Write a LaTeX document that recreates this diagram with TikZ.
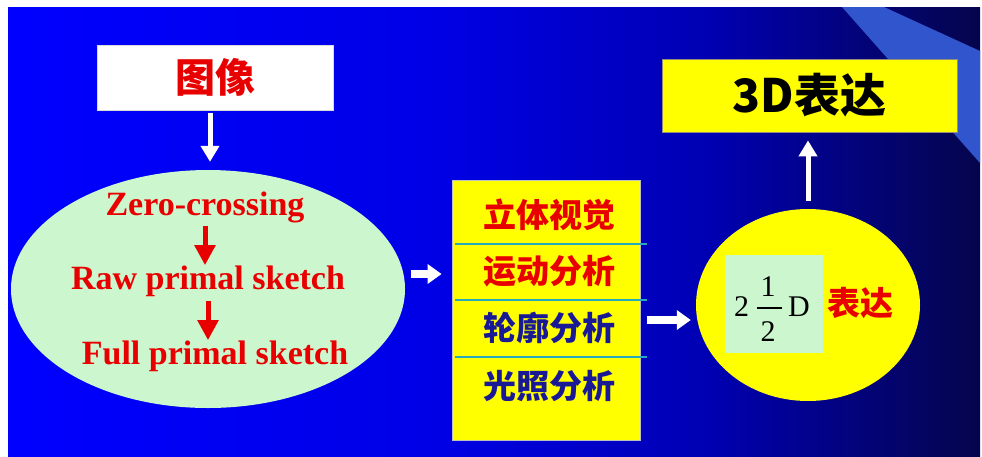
\documentclass[tikz,border=0pt]{standalone}
\usepackage{fontspec}
\setmainfont{Liberation Serif}
\newfontfamily\cjk{Noto Sans CJK SC}
\usetikzlibrary{shapes.geometric,arrows.meta}
\definecolor{band}{RGB}{48,85,205}
\definecolor{pale}{RGB}{204,246,206}
\definecolor{yel}{RGB}{255,255,0}
\definecolor{redt}{RGB}{232,0,0}
\definecolor{navyt}{RGB}{25,25,150}
\definecolor{tealline}{RGB}{40,170,190}
\definecolor{boxedge}{RGB}{150,140,120}
\pgfdeclarehorizontalshading{bgshade}{100bp}{rgb(0bp)=(0,0,1); rgb(25bp)=(0,0,1); rgb(47bp)=(0,0,0.9); rgb(61bp)=(0,0,0.7); rgb(75bp)=(0.02,0.02,0.3); rgb(100bp)=(0.02,0.02,0.3)}
\begin{document}
\begin{tikzpicture}[x=1pt,y=-1pt,
  wbox/.style={draw=gray!30, fill=white, line width=0.8pt, inner sep=0pt},
  ybox/.style={draw=boxedge, fill=yel, line width=0.8pt, inner sep=0pt},
  lat/.style={font=\bfseries\fontsize{34}{36}\selectfont, text=redt, inner sep=0pt, anchor=base},
  cj/.style={font=\cjk\bfseries\fontsize{33}{36}\selectfont, inner sep=0pt},
  num/.style={font=\fontsize{30}{32}\selectfont, text=black, inner sep=0pt, anchor=base},
  warrow/.style={draw=white, line width=5pt, -{Triangle[width=18pt,length=16pt]}},
  fatarrow/.style={draw=white, line width=7.5pt, -{Triangle[width=19pt,length=14pt]}},
  rarrow/.style={draw=redt, line width=5pt, -{Triangle[width=20pt,length=20pt]}}]
\useasboundingbox (0,0) rectangle (982,456);
\fill[white] (0,0) rectangle (982,456);
\shade[shading=bgshade] (8,7) rectangle (980,456);
\fill[band] (842,7) -- (884,7) -- (980,51) -- (980,163) -- cycle;

% image box
\node[wbox, minimum width=236pt, minimum height=65pt] (img) at (215,77.5)
  {\cjk\bfseries\fontsize{40}{44}\selectfont\color{redt}图像};

% green ellipse
\node[ellipse, fill=pale, minimum width=394pt, minimum height=238pt, inner sep=0pt] (ell) at (208,289) {};
\node[lat] (zc) at (205,215) {Zero-crossing};
\node[lat] (raw) at (208,289) {Raw primal sketch};
\node[lat] (full) at (215,364) {Full primal sketch};

% yellow stack
\node[ybox, draw=gray!50, minimum width=188pt, minimum height=260pt] (stack) at (546,310) {};
\draw[tealline, line width=1.3pt] (455,244) -- (647,244);
\draw[tealline, line width=1.3pt] (455,300) -- (647,300);
\draw[tealline, line width=1.3pt] (455,357) -- (647,357);
\node[cj, text=redt] (s1) at (549,215) {立体视觉};
\node[cj, text=redt] (s2) at (549,271) {运动分析};
\node[cj, text=navyt] (s3) at (549,328) {轮廓分析};
\node[cj, text=navyt] (s4) at (549,386) {光照分析};

% yellow ellipse
\node[ellipse, fill=yel, minimum width=224pt, minimum height=192pt, inner sep=0pt] (yel) at (808,305) {};
\node[fill=pale, minimum width=98pt, minimum height=98pt, inner sep=0pt] (half) at (774,304) {};
\node[num] (two) at (741.5,316) {2};
\node[num] (one) at (768,296) {1};
\node[num] (den) at (768,341) {2};
\draw[black, line width=1.4pt] (757,308) -- (782,308);
\node[num] (dd) at (799,316) {D};
\node[cj, text=redt] (bd) at (860,303) {表达};

% 3D box
\node[ybox, minimum width=295pt, minimum height=73pt] (d3) at (809.5,95.5)
  {\cjk\bfseries\fontsize{46}{50}\selectfont 3D表达};

% connectors
\draw[warrow, shorten <=3pt, shorten >=8pt] ([xshift=-5pt]img.south) -- ([xshift=-5pt]img.south |- ell.north);
\draw[rarrow, shorten <=3pt, shorten >=0pt] (zc.south) -- (zc.south |- raw.north);
\draw[rarrow, shorten <=5pt, shorten >=0pt] (raw.south) -- (raw.south |- full.north);
\draw[fatarrow, shorten <=6pt, shorten >=10pt] ([yshift=15pt]ell.east) -- ([yshift=15pt]ell.east -| stack.west);
\draw[fatarrow, shorten <=7pt, shorten >=5pt] ([yshift=-10pt]stack.east) -- ([yshift=-10pt]stack.east -| yel.west);
\draw[warrow, shorten <=8pt, shorten >=8pt] (yel.north) -- (yel.north |- d3.south);
\end{tikzpicture}
\end{document}
